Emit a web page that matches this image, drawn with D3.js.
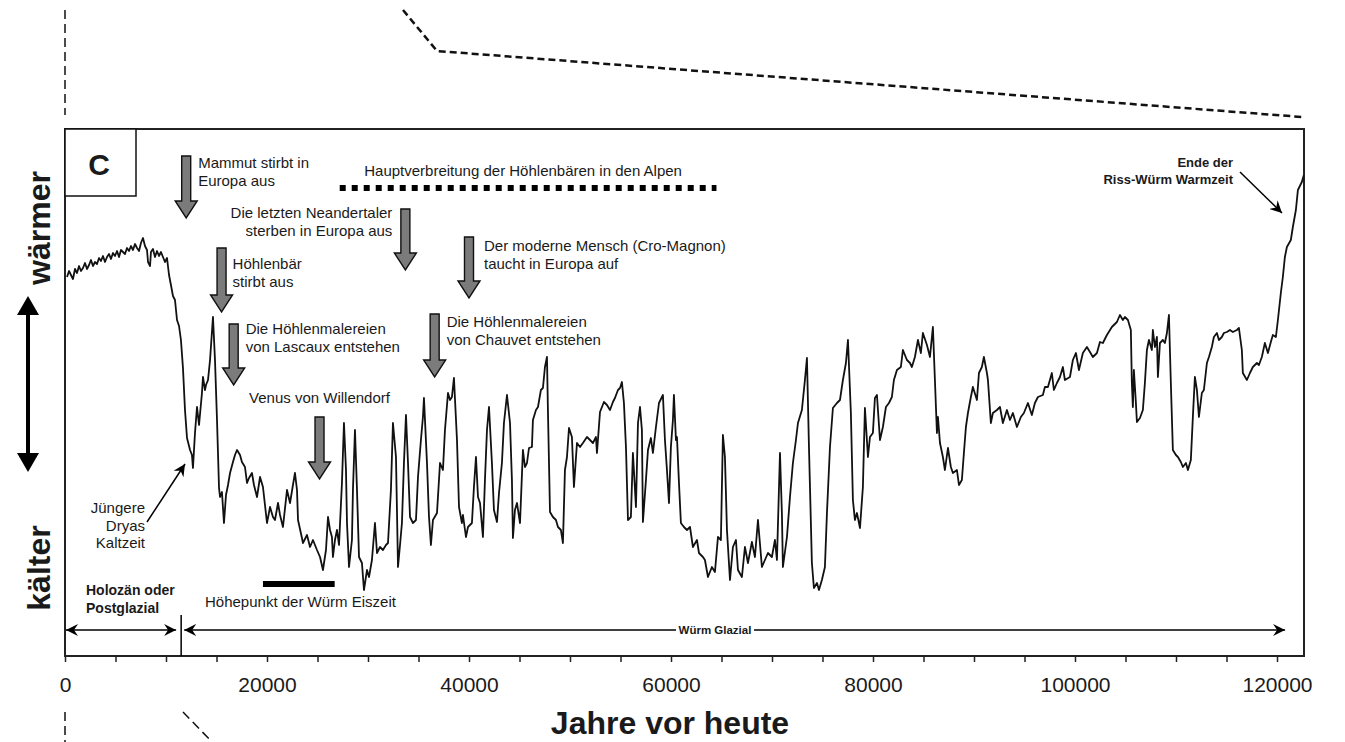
<!doctype html>
<html>
<head>
<meta charset="utf-8">
<script src="https://d3js.org/d3.v7.min.js"></script>
<style>
body { margin: 0; background: #fff; }
text { font-family: "Liberation Sans", Arial, Helvetica, sans-serif; fill: #1a1a1a; }
</style>
</head>
<body>
<script>

// years before present
var years = [
  200,400,590,790,990,1190,1390,1580,1780,1980,2180,2380,2570,2770,2970,3170,3370,3560,3760,3960,
  4160,4360,4550,4750,4950,5150,5350,5540,5740,5940,6140,6340,6530,6730,6930,7130,7330,7520,7720,7920,
  8120,8220,8420,8510,8710,8910,9110,9310,9500,9700,9900,10100,
  10300,10490,10690,10890,11090,11290,11480,11680,11880,12080,12380,12570,12670,12870,13070,
  13270,13560,13660,13860,13960,14160,14360,14650,14850,15050,15250,15350,15540,15740,15940,
  16140,16340,16630,16830,17030,17330,17520,17820,18020,18220,18510,18710,19010,19310,19600,19800,
  20000,20300,20590,20790,21090,21290,21580,21980,22280,22570,22770,22970,23070,23460,23560,
  23960,24260,24550,24950,25250,25540,25840,26040,26240,26430,26530,26730,26930,27130,27420,
  27620,27820,27920,28120,28410,28510,28710,28910,29110,29400,29600,29900,30100,30390,30690,
  30890,31190,31480,31780,31980,32270,32470,32770,32970,33170,33360,33560,33760,33960,34160,
  34450,34750,34950,35240,35440,35540,35840,36040,36230,36430,36830,37130,37420,37620,37920,
  38120,38310,38510,38810,39010,39300,39400,39700,39900,40290,40490,40690,40890,41090,
  41380,41580,41780,41980,42270,42470,42770,42970,43260,43460,43760,44060,44250,44350,44550,
  44750,45050,45340,45540,45740,45940,46230,46330,46630,46830,47120,47320,47520,47720,47820,
  48020,48310,48610,48810,49100,49300,49500,49700,49900,50190,50390,50690,50990,51280,51680,
  51980,52270,52570,52670,52970,53360,53660,53960,54250,54450,54750,54950,55140,55340,55540,
  55740,56030,56230,56530,56730,56930,57120,57220,57520,57720,58010,58210,58510,58810,59200,
  59400,59600,59800,59990,60190,60290,60490,60590,60790,60980,61280,61580,
  61880,62170,62570,62770,63160,63360,63660,64050,64350,64650,64940,65140,65340,65540,65840,
  66130,66430,66630,67020,67320,67620,68010,68310,68610,69000,69300,69600,69990,70290,70490,
  70790,70980,71080,71480,71780,72070,72370,72570,72960,73260,73460,73660,73950,74150,74450,
  74650,74940,75240,75440,75740,76030,76430,76730,77020,77320,77520,77810,78010,78210,78410,
  78710,79000,79200,79500,79700,79990,80190,80390,80690,80980,81280,81580,81870,82070,82370,
  82760,82960,83360,83660,
  83850,84150,84450,84740,84940,85340,85640,85930,86130,86330,86430,86630,86920,87120,87420,
  87710,87910,88310,88510,88800,89000,89200,89400,89690,89890,90290,90490,90780,90980,91280,
  91380,91670,91870,92270,92570,92860,93260,93560,93850,94250,94640,94940,95340,95730,96030,
  96330,96820,97020,97320,97710,97910,98210,98510,98800,99000,99500,99790,100090,100390,100780,
  101180,101480,101770,102170,102470,102760,103160,103650,104150,104450,104740,104940,105240,105530,105630,
  105730,105830,106030,106130,106430,106720,106920,107120,107320,107610,107710,107910,108110,108210,108410,
  108700,108900,109100,109300,109490,109690,109990,110190,110480,110680,110980,111180,111470,111670,111870,
  112070,112270,112560,112760,113060,113260,113550,113750,114050,114250,114540,114740,115040,115340,115630,
  116030,116230,116520,116620,117020,117320,117610,118010,118210,118500,118800,119100,119390,119590,119890,
  120090,120380,120580,120780,120980,121370,121570,121870,122070,122460,122660
];

// relative temperature index (higher = warmer), same order as years
var temp = [
  378,384,380,376,386,382,389,384,387,392,386,390,395,389,393,391,397,394,399,393,
  398,401,396,402,399,404,398,405,403,401,407,404,409,405,411,407,404,412,417,409,
  405,393,389,403,406,398,404,399,403,398,393,397,
  380,370,359,355,335,329,315,287,245,217,205,200,187,222,248,
  230,262,278,265,270,275,295,338,295,235,167,158,163,132,160,
  170,182,193,200,205,200,193,188,172,177,182,170,158,178,168,150,
  132,148,138,135,152,140,128,165,152,170,182,165,135,117,112,
  120,108,115,105,98,85,105,138,125,118,98,115,125,110,172,
  232,185,132,88,115,165,225,165,98,92,65,85,78,95,132,
  102,108,105,110,112,165,232,198,88,110,132,192,240,192,138,
  132,135,178,215,238,257,192,138,110,135,142,192,185,225,262,
  255,258,277,215,148,132,140,118,128,132,168,198,158,152,
  118,175,225,248,192,145,133,162,192,232,260,232,175,117,145,
  152,132,205,188,192,207,208,235,245,248,265,267,288,298,242,
  143,138,135,128,125,112,185,198,227,218,168,212,208,212,218,
  215,212,218,202,243,253,250,245,253,257,265,267,273,252,208,
  135,138,202,148,232,248,225,133,175,205,217,202,228,252,260,
  215,185,152,208,235,260,215,218,172,132,128,125,
  128,108,115,102,98,95,78,88,83,118,115,220,198,125,75,
  108,115,85,78,108,92,113,98,135,88,95,102,98,115,95,
  202,142,88,118,158,192,215,232,245,275,297,208,92,67,72,
  65,75,88,142,208,247,252,255,275,292,315,242,155,135,142,
  127,168,247,198,218,222,257,260,215,228,248,252,258,275,285,
  288,305,295,292,
  288,298,315,302,322,310,298,328,275,222,238,212,198,185,207,
  188,182,185,170,175,202,228,242,258,268,255,282,288,298,282,
  275,232,242,245,248,232,245,235,242,228,238,242,252,240,252,
  258,260,268,268,282,265,272,278,288,275,278,295,302,285,302,
  308,303,298,302,313,312,320,328,333,340,335,338,335,325,272,
  248,285,252,233,237,245,272,305,315,305,325,308,318,278,312,
  315,312,322,340,272,205,200,198,193,188,192,185,195,238,278,
  265,238,262,265,292,298,308,318,322,315,318,322,323,325,323,
  325,327,305,282,275,282,288,292,290,298,312,302,313,320,318,
  335,362,378,398,408,415,428,445,465,473,480
];

var tickYears = d3.range(0, 120001, 5000);
var labelEvery = 20000;

// events marked with grey arrows
var eventYears = [12000, 15500, 33700, 40000, 36600, 16700, 25200];
var eventLabels = [
  ["Mammut stirbt in", "Europa aus"],
  ["Höhlenbär", "stirbt aus"],
  ["Die letzten Neandertaler", "sterben in Europa aus"],
  ["Der moderne Mensch (Cro-Magnon)", "taucht in Europa auf"],
  ["Die Höhlenmalereien", "von Chauvet entstehen"],
  ["Die Höhlenmalereien", "von Lascaux entstehen"],
  ["Venus von Willendorf"]
];

// periods
var caveBearYears = [27200, 64500];
var lgmYears = [19600, 26700];
var holoceneYears = [0, 11000];
var holoceneStart = 11500;
var wurmYears = [11800, 120800];

// layout
var W = 1345, H = 742;
var plotLeft = 65, plotRight = 1304, plotTop = 129, plotBottom = 656;

var svg = d3.select("body")
  .append("svg")
    .attr("width", W)
    .attr("height", H);

var x = d3.scaleLinear().domain([0, 120000]).range([plotLeft, 1277]);
var y = d3.scaleLinear().domain([0, 527]).range([655, 128]);

// connector lines to neighbouring panels
var dashes = svg.append("g").attr("fill", "none").attr("stroke", "#111");
dashes.append("line").attr("x1", 65).attr("y1", 10).attr("x2", 65).attr("y2", 115)
  .attr("stroke-width", 1.5).attr("stroke-dasharray", "9,5");
dashes.append("polyline").attr("points", "403,10 437,51 1302,117")
  .attr("stroke-width", 2.5).attr("stroke-dasharray", "7,4");
dashes.append("line").attr("x1", 65).attr("y1", 712).attr("x2", 65).attr("y2", 742)
  .attr("stroke-width", 1.5).attr("stroke-dasharray", "9,5");
dashes.append("line").attr("x1", 183).attr("y1", 712).attr("x2", 212).attr("y2", 742)
  .attr("stroke-width", 1.5).attr("stroke-dasharray", "9,5");

// frame
svg.append("rect")
  .attr("x", plotLeft).attr("y", plotTop)
  .attr("width", plotRight - plotLeft).attr("height", plotBottom - plotTop)
  .attr("fill", "none").attr("stroke", "#222").attr("stroke-width", 2);

svg.append("clipPath").attr("id", "plotclip")
  .append("rect").attr("x", plotLeft).attr("y", plotTop)
  .attr("width", plotRight - plotLeft).attr("height", plotBottom - plotTop);

// x axis
var axis = svg.append("g")
  .attr("transform", "translate(0," + plotBottom + ")")
  .call(d3.axisBottom(x)
    .tickValues(tickYears)
    .tickSize(6)
    .tickPadding(15)
    .tickFormat(function(d) { return d % labelEvery === 0 ? d : ""; }));
axis.select(".domain").remove();
axis.selectAll(".tick line").attr("stroke", "#222").attr("stroke-width", 1.5);
axis.selectAll(".tick text")
  .style("font-family", "'Liberation Sans', Arial, sans-serif")
  .style("font-size", "21px")
  .attr("fill", "#1a1a1a");

svg.append("text")
  .attr("x", 670).attr("y", 734)
  .attr("text-anchor", "middle")
  .style("font-size", "32px").style("font-weight", "bold")
  .text("Jahre vor heute");

// y labels
svg.append("text")
  .attr("transform", "translate(50,228) rotate(-90)")
  .attr("text-anchor", "middle")
  .style("font-size", "32px").style("font-weight", "bold")
  .text("wärmer");
svg.append("text")
  .attr("transform", "translate(50,568) rotate(-90)")
  .attr("text-anchor", "middle")
  .style("font-size", "32px").style("font-weight", "bold")
  .text("kälter");

var yArrow = svg.append("g").attr("fill", "#000");
yArrow.append("line").attr("x1", 28).attr("x2", 28).attr("y1", 310).attr("y2", 458)
  .attr("stroke", "#000").attr("stroke-width", 4);
yArrow.append("path").attr("d", "M28,296 L17,315 L39,315 Z");
yArrow.append("path").attr("d", "M28,472 L17,453 L39,453 Z");

// temperature curve
var line = d3.line()
  .x(function(d) { return x(d[0]); })
  .y(function(d) { return y(d[1]); });

svg.append("path")
  .datum(d3.zip(years, temp))
  .attr("clip-path", "url(#plotclip)")
  .attr("fill", "none")
  .attr("stroke", "#111")
  .attr("stroke-width", 1.8)
  .attr("stroke-linejoin", "round")
  .attr("d", line);

// panel letter
svg.append("rect").attr("x", plotLeft).attr("y", plotTop).attr("width", 71).attr("height", 67)
  .attr("fill", "#fff").attr("stroke", "#111").attr("stroke-width", 1.5);
svg.append("text").attr("x", 99).attr("y", 175).attr("text-anchor", "middle")
  .style("font-size", "30px").style("font-weight", "bold").text("C");

// grey event arrows
var eventLayout = [
  { top: 156, tip: 218, dx: 12, anchor: "start", y0: 168 },
  { top: 248, tip: 312, dx: 11, anchor: "start", y0: 269 },
  { top: 209, tip: 270, dx: -13, anchor: "end", y0: 218 },
  { top: 237, tip: 298, dx: 15, anchor: "start", y0: 251 },
  { top: 314, tip: 377, dx: 12, anchor: "start", y0: 327 },
  { top: 324, tip: 385, dx: 12, anchor: "start", y0: 334 },
  { top: 417, tip: 479, dx: 0, anchor: "middle", y0: 403 }
];

function arrowPath(cx, t, tip) {
  var s = 4.5, h = 11, hl = 17;
  return "M" + (cx - s) + "," + t + "L" + (cx + s) + "," + t +
    "L" + (cx + s) + "," + (tip - hl) + "L" + (cx + h) + "," + (tip - hl) +
    "L" + cx + "," + tip + "L" + (cx - h) + "," + (tip - hl) +
    "L" + (cx - s) + "," + (tip - hl) + "Z";
}

var events = svg.selectAll(".event")
  .data(eventYears)
  .enter()
  .append("g")
    .classed("event", true);

events.append("path")
  .attr("d", function(d, i) { return arrowPath(x(d), eventLayout[i].top, eventLayout[i].tip); })
  .attr("fill", "#7b7b7b")
  .attr("stroke", "#111")
  .attr("stroke-width", 1.4);

events.append("text")
  .attr("text-anchor", function(d, i) { return eventLayout[i].anchor; })
  .style("font-size", "15px")
  .selectAll("tspan")
  .data(function(d, i) {
    return eventLabels[i].map(function(t, j) {
      return { t: t, x: x(d) + eventLayout[i].dx, y: eventLayout[i].y0 + j * 17.5 };
    });
  })
  .enter()
  .append("tspan")
    .attr("x", function(d) { return d.x; })
    .attr("y", function(d) { return d.y; })
    .text(function(d) { return d.t; });

// cave bear range (dotted)
svg.append("line")
  .attr("x1", x(caveBearYears[0])).attr("x2", x(caveBearYears[1]))
  .attr("y1", 188).attr("y2", 188)
  .attr("stroke", "#000").attr("stroke-width", 6).attr("stroke-dasharray", "6,6");
svg.append("text")
  .attr("x", (x(caveBearYears[0]) + x(caveBearYears[1])) / 2 - 5).attr("y", 176)
  .attr("text-anchor", "middle").style("font-size", "15px")
  .text("Hauptverbreitung der Höhlenbären in den Alpen");

// last glacial maximum bar
svg.append("line")
  .attr("x1", x(lgmYears[0])).attr("x2", x(lgmYears[1]))
  .attr("y1", 584).attr("y2", 584)
  .attr("stroke", "#000").attr("stroke-width", 6);
svg.append("text").attr("x", 205).attr("y", 607).style("font-size", "15px")
  .text("Höhepunkt der Würm Eiszeit");

// black pointer arrows
svg.append("defs").append("marker")
  .attr("id", "head")
  .attr("viewBox", "-12 -6 12 12")
  .attr("refX", 0).attr("refY", 0)
  .attr("markerWidth", 12).attr("markerHeight", 12)
  .attr("markerUnits", "userSpaceOnUse")
  .attr("orient", "auto-start-reverse")
  .append("path").attr("d", "M0,0 L-12,-6 L-8,0 L-12,6 Z").attr("fill", "#000");

svg.append("line").attr("x1", 147).attr("y1", 522).attr("x2", 185).attr("y2", 464)
  .attr("stroke", "#000").attr("stroke-width", 1.5).attr("marker-end", "url(#head)");
svg.append("text").attr("text-anchor", "end").style("font-size", "15px")
  .selectAll("tspan").data(["Jüngere", "Dryas", "Kaltzeit"]).enter().append("tspan")
    .attr("x", 145).attr("y", function(d, i) { return 513 + i * 17.5; })
    .text(function(d) { return d; });

svg.append("line").attr("x1", 1240).attr("y1", 172).attr("x2", 1282).attr("y2", 213)
  .attr("stroke", "#000").attr("stroke-width", 1.5).attr("marker-end", "url(#head)");
svg.append("text").attr("text-anchor", "end").style("font-size", "13px").style("font-weight", "bold")
  .selectAll("tspan").data(["Ende der", "Riss-Würm Warmzeit"]).enter().append("tspan")
    .attr("x", 1233).attr("y", function(d, i) { return 167 + i * 17; })
    .text(function(d) { return d; });

// period arrows along the bottom
svg.append("line")
  .attr("x1", x(holoceneYears[0]) + 1).attr("x2", x(holoceneYears[1]))
  .attr("y1", 630).attr("y2", 630)
  .attr("stroke", "#000").attr("stroke-width", 1.5)
  .attr("marker-start", "url(#head)").attr("marker-end", "url(#head)");
svg.append("line")
  .attr("x1", x(holoceneStart)).attr("x2", x(holoceneStart))
  .attr("y1", 615).attr("y2", plotBottom)
  .attr("stroke", "#000").attr("stroke-width", 1.5);
svg.append("line")
  .attr("x1", x(wurmYears[0])).attr("x2", x(wurmYears[1]))
  .attr("y1", 630).attr("y2", 630)
  .attr("stroke", "#000").attr("stroke-width", 1.5)
  .attr("marker-start", "url(#head)").attr("marker-end", "url(#head)");
svg.append("rect").attr("x", 676).attr("y", 620).attr("width", 78).attr("height", 20).attr("fill", "#fff");
svg.append("text").attr("x", 715).attr("y", 634).attr("text-anchor", "middle")
  .style("font-size", "11.5px").style("font-weight", "bold")
  .text("Würm  Glazial");

svg.append("text").style("font-size", "14px").style("font-weight", "bold")
  .selectAll("tspan").data(["Holozän oder", "Postglazial"]).enter().append("tspan")
    .attr("x", 86).attr("y", function(d, i) { return 595 + i * 17.5; })
    .text(function(d) { return d; });

    </script>
</body>
</html>
